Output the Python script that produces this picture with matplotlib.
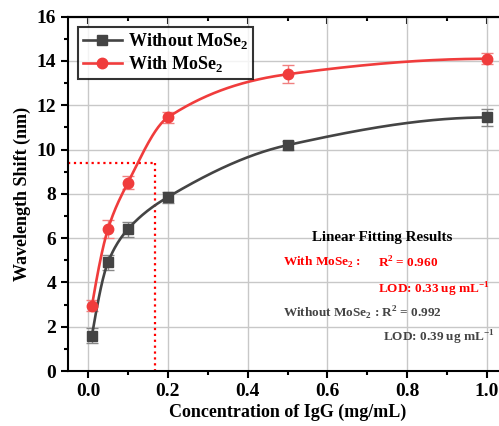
import numpy as np
import matplotlib
matplotlib.use("Agg")
import matplotlib.pyplot as plt
from matplotlib.ticker import MultipleLocator

plt.rcParams['font.family'] = ['Liberation Serif', 'DejaVu Serif']
plt.rcParams['font.weight'] = 'bold'
plt.rcParams['axes.labelweight'] = 'bold'
plt.rcParams['mathtext.fontset'] = 'custom'
plt.rcParams['mathtext.rm'] = 'Liberation Serif:bold'
plt.rcParams['mathtext.bf'] = 'Liberation Serif:bold'

# data
conc = [0.01, 0.05, 0.1, 0.2, 0.5, 1.0]
with_mose2 = [2.95, 6.4, 8.5, 11.45, 13.4, 14.1]
with_err = [0.25, 0.4, 0.3, 0.25, 0.4, 0.25]
without_mose2 = [1.6, 4.9, 6.4, 7.85, 10.2, 11.45]
without_err = [0.35, 0.35, 0.35, 0.25, 0.2, 0.4]
lod_x = 0.167
lod_y = 9.4

RED = '#f03c3c'
GRAY = '#444444'


def pchip(x, y, xs):
    # monotone cubic through the measured points (smooth connecting line)
    x = np.asarray(x, float); y = np.asarray(y, float)
    h = np.diff(x); d = np.diff(y) / h
    m = np.zeros_like(y)
    for k in range(1, len(x) - 1):
        if d[k - 1] * d[k] > 0:
            w1 = 2 * h[k] + h[k - 1]
            w2 = h[k] + 2 * h[k - 1]
            m[k] = (w1 + w2) / (w1 / d[k - 1] + w2 / d[k])
    m[0] = ((2 * h[0] + h[1]) * d[0] - h[0] * d[1]) / (h[0] + h[1])
    if m[0] * d[0] <= 0:
        m[0] = 0
    m[-1] = ((2 * h[-1] + h[-2]) * d[-1] - h[-1] * d[-2]) / (h[-1] + h[-2])
    if m[-1] * d[-1] <= 0:
        m[-1] = 0
    idx = np.clip(np.searchsorted(x, xs) - 1, 0, len(x) - 2)
    t = (xs - x[idx]) / h[idx]
    h00 = 2 * t**3 - 3 * t**2 + 1
    h10 = t**3 - 2 * t**2 + t
    h01 = -2 * t**3 + 3 * t**2
    h11 = t**3 - t**2
    return h00 * y[idx] + h10 * h[idx] * m[idx] + h01 * y[idx + 1] + h11 * h[idx] * m[idx + 1]


fig = plt.figure(figsize=(4.99, 4.26), dpi=100)
ax = fig.add_axes([68 / 499, 55 / 426, 439 / 499, 354.3 / 426])

xs = np.linspace(conc[0], conc[-1], 400)
ax.plot(xs, pchip(conc, without_mose2, xs), color=GRAY, lw=1.9, zorder=3)
ax.plot(xs, pchip(conc, with_mose2, xs), color=RED, lw=1.9, zorder=3)

ax.errorbar(conc, without_mose2, yerr=without_err, fmt='none', ecolor='#888888',
            elinewidth=1, capsize=4, capthick=1, zorder=2)
ax.errorbar(conc, with_mose2, yerr=with_err, fmt='none', ecolor='#f08080',
            elinewidth=1, capsize=4, capthick=1, zorder=2)
ax.plot(conc, without_mose2, 's', color=GRAY, ms=7, zorder=4)
ax.plot(conc, with_mose2, 'o', color=RED, ms=7.5, zorder=4)

# legend handles
h1, = ax.plot([], [], '-s', color=GRAY, lw=1.9, ms=7, label='Without MoSe$_2$')
h2, = ax.plot([], [], '-o', color=RED, lw=1.9, ms=7.5, label='With MoSe$_2$')
leg = ax.legend(handles=[h1, h2], loc='upper left', bbox_to_anchor=(0.023, 0.971),
                borderaxespad=0, fontsize=13, frameon=True, fancybox=False,
                edgecolor='black', handlelength=2.2, borderpad=0.25,
                labelspacing=0.15, handletextpad=0.3)
leg.get_frame().set_linewidth(1.5)

# LOD guide lines
ax.plot([-0.05, lod_x], [lod_y, lod_y], ':', color='red', lw=1.6, zorder=2)
ax.plot([lod_x, lod_x], [lod_y, 0], ':', color='red', lw=1.6, zorder=2)

ax.set_xlim(-0.05, 1.05)
ax.set_ylim(0, 16)
ax.xaxis.set_minor_locator(MultipleLocator(0.1))
ax.yaxis.set_major_locator(MultipleLocator(2))
ax.yaxis.set_minor_locator(MultipleLocator(1))
ax.set_xticks([0, 0.2, 0.4, 0.6, 0.8, 1.0])
ax.set_xticklabels(['0.0', '0.2', '0.4', '0.6', '0.8', '1.0'])
ax.grid(True, which='major', color='#c8c8c8', lw=1, zorder=0)
ax.set_axisbelow(True)
ax.tick_params(which='major', direction='out', length=5, width=1.5, labelsize=14)
ax.tick_params(which='minor', direction='out', length=3, width=1.5)
for lab in ax.get_xticklabels() + ax.get_yticklabels():
    lab.set_fontweight('bold')
for sp in ax.spines.values():
    sp.set_linewidth(1.5)

top = ax.secondary_xaxis('top')
top.xaxis.set_major_locator(MultipleLocator(0.2))
top.xaxis.set_minor_locator(MultipleLocator(0.1))
top.tick_params(which='major', direction='in', length=5, width=1.5, labeltop=False)
top.tick_params(which='minor', direction='in', length=3, width=1.5)
top.spines['top'].set_linewidth(1.5)

ax.set_xlabel('Concentration of IgG (mg/mL)', fontsize=13, fontweight='bold', labelpad=3)
ax.set_ylabel('Wavelength Shift (nm)', fontsize=13, fontweight='bold', labelpad=4)

fs = 9.5
ax.text(0.737, 6.05, 'Linear Fitting Results', ha='center', va='center',
        fontsize=10.8, fontweight='bold', color='black')
ax.text(0.489, 4.9, 'With MoSe$_2$ :', ha='left', va='center', fontsize=fs,
        fontweight='bold', color='red')
ax.text(0.727, 4.9, 'R$^2$ = 0.960', ha='left', va='center', fontsize=fs,
        fontweight='bold', color='red')
ax.text(0.727, 3.66, 'LOD: 0.33 ug mL$^{-1}$', ha='left', va='center', fontsize=fs,
        fontweight='bold', color='red')
ax.text(0.489, 2.62, 'Without MoSe$_2$ : R$^2$ = 0.992', ha='left', va='center',
        fontsize=fs, fontweight='bold', color=GRAY)
ax.text(0.739, 1.49, 'LOD: 0.39 ug mL$^{-1}$', ha='left', va='center', fontsize=fs,
        fontweight='bold', color=GRAY)

fig.savefig('out.png', dpi=100)
